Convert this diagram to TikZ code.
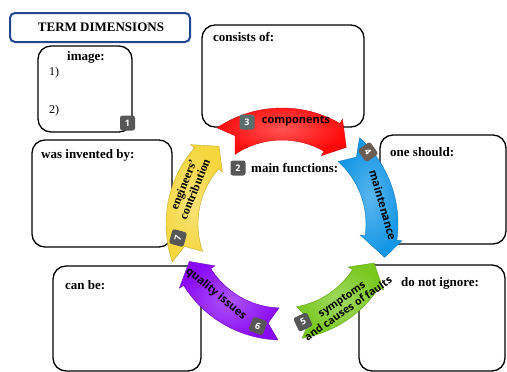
\documentclass[tikz,border=0pt]{standalone}
\usepackage{fontspec}
\setmainfont{Liberation Serif}
\newfontfamily\arrfont{Open Sans}
\usetikzlibrary{calc}
\definecolor{frameblue}{HTML}{24478F}
\definecolor{ared}{HTML}{FF0A0A}
\definecolor{ablue}{HTML}{1296E6}
\definecolor{agreen}{HTML}{78C81E}
\definecolor{apurple}{HTML}{8A0AF5}
\definecolor{ayellow}{HTML}{F5D63C}
\definecolor{bgray}{HTML}{575757}
\definecolor{bteal}{HTML}{5B6D6D}
\definecolor{bbrown}{HTML}{695D55}
\newcommand\ringarrow[6]{%
  \shade[inner color=#1!70!white, outer color=#1, draw=#1!80!black, line width=0.4pt]
    ($(C)+(#2:116)$) arc[start angle=#2, end angle=#4, radius=116]
    -- ($(C)+(#4:121)$) -- ($(C)+(#5:#6)$) -- ($(C)+(#4:79)$) -- ($(C)+(#4:84)$)
    arc[start angle=#4, end angle=#2, radius=84] -- ($(C)+(#3:100)$) -- cycle;}
\begin{document}
\begin{tikzpicture}[x=1pt,y=-1pt,
  box/.style={draw, line width=1.3pt, rounded corners=13pt, inner sep=0pt},
  lbl/.style={inner sep=0pt, font=\bfseries\fontsize{13}{15}\selectfont},
  numtxt/.style={inner sep=0pt, font=\fontsize{12}{14}\selectfont},
  badge/.style={fill=#1, rounded corners=2.5pt, minimum size=15pt, inner sep=0pt, text=white, font=\arrfont\bfseries\fontsize{9}{10}\selectfont},
  badge/.default=bgray,
  arrtxt/.style={inner sep=0pt, align=center, font=\arrfont\bfseries\fontsize{#1}{#1}\selectfont},
  arrtxt/.default=11]
\useasboundingbox (0,0) rectangle (507,372);
\coordinate (C) at (282,224);
% boxes
\node[box, draw=frameblue, line width=2pt, rounded corners=5pt, minimum width=180pt, minimum height=29pt] (titlebox) at (100,27.5) {};
\node[box, minimum width=94pt, minimum height=86pt] (imgbox) at (85,89) {};
\node[box, minimum width=162pt, minimum height=102pt] (consbox) at (283,76) {};
\node[box, minimum width=140pt, minimum height=107pt] (invbox) at (102,193.5) {};
\node[box, minimum width=126pt, minimum height=109pt] (shouldbox) at (443,189.5) {};
\node[box, minimum width=146pt, minimum height=106pt] (ignbox) at (432,318) {};
\node[box, minimum width=148pt, minimum height=105pt] (canbox) at (127,318.5) {};
% ring arrows
\ringarrow{ared}{236}{242}{300}{310}{100}
\ringarrow{ayellow}{161}{167}{221}{231}{100}
\ringarrow{ablue}{312}{318}{368}{378}{108}
\ringarrow{agreen}{80}{74}{33}{23}{100}
\ringarrow{apurple}{92}{98}{148}{158}{100}
% texts
\node[lbl] (ttl) at (101,27) {TERM DIMENSIONS};
\node[lbl] (imgt) at (86,57) {image:};
\node[numtxt, anchor=west] (n1) at (49,73) {1)};
\node[numtxt, anchor=west] (n2) at (49,111) {2)};
\node[lbl, anchor=west] (const) at (213,37) {consists of:};
\node[lbl, anchor=west] (invt) at (41,155) {was invented by:};
\node[lbl, anchor=west] (shouldt) at (390,152) {one should:};
\node[lbl, anchor=west] (ignt) at (401,283) {do not ignore:};
\node[lbl, anchor=west] (cant) at (65,285) {can be:};
\node[lbl, anchor=west] (funct) at (251,168) {main functions:};
% badges
\node[badge] (b1) at (127.5,123) {1};
\node[badge] (b2) at (238,168) {2};
\node[badge=bteal] (b3) at (247,122) {3};
\node[badge=bbrown, rotate=-55] (b4) at (368,152) {4};
\node[badge, rotate=25] (b5) at (303,322) {5};
\node[badge, rotate=-20] (b6) at (258,326) {6};
\node[badge, rotate=75] (b7) at (178,238) {7};
% arrow labels
\node[arrtxt] (comp) at (296,121) {components};
\node[arrtxt, rotate=-74] (maint) at (383,205) {maintenance};
\node[arrtxt=10.5, rotate=35] (symp) at (345,304) {symptoms\\and causes of faults};
\node[arrtxt, rotate=-40] (qual) at (216,294) {quality issues};
\node[inner sep=0pt, align=center, rotate=68, font=\bfseries\fontsize{12}{12}\selectfont] (eng) at (189,187) {engineers’\\contribution};
\end{tikzpicture}
\end{document}
